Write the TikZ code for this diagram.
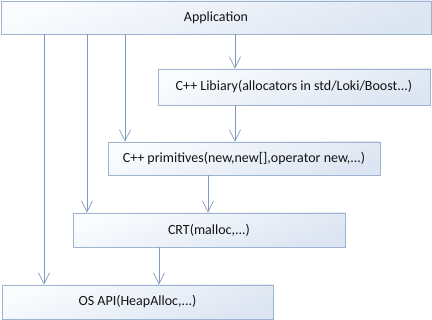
\documentclass[tikz,border=0pt]{standalone}
\usepackage{fontspec}
\setmainfont{Carlito}
\usetikzlibrary{arrows.meta}
\definecolor{boxline}{HTML}{9DB3D1}
\definecolor{boxtop}{HTML}{FAFCFE}
\definecolor{boxbot}{HTML}{DCE5F2}
\definecolor{arrowcol}{HTML}{7F99BE}
\definecolor{txt}{HTML}{141414}
\tikzset{
  layer/.style={draw=boxline, line width=0.8pt, top color=boxtop, bottom color=boxbot,
    shading angle=20, inner sep=0pt, text=txt, font=\fontsize{14}{16}\selectfont},
  call/.style={draw=arrowcol, line width=0.7pt,
    -{Straight Barb[length=11pt,width=11pt,line width=0.7pt]}}
}
\begin{document}
\begin{tikzpicture}[x=1pt,y=-1pt]
  \useasboundingbox (0,0) rectangle (432,320);
  \fill[white] (0,0) rectangle (432,320);
  % software layers, top to bottom
  \node[layer, minimum width=430pt, minimum height=33pt] (app)  at (216,17.5) {Application};
  \node[layer, minimum width=272pt, minimum height=36pt] (lib)  at (294,87)   {C++ Libiary(allocators in std/Loki/Boost...)};
  \node[layer, minimum width=272pt, minimum height=33pt] (prim) at (244,158.5) {C++ primitives(new,new[],operator new,...)};
  \node[layer, minimum width=272pt, minimum height=34pt] (crt)  at (209,230)  {CRT(malloc,...)};
  \node[layer, minimum width=271pt, minimum height=34pt] (os)   at (137.5,302) {OS API(HeapAlloc,...)};
  % calls between neighbouring layers
  \draw[call] (app.south -| 235,0) -- (lib.north -| 235,0);
  \draw[call] (lib.south -| 235,0) -- (prim.north -| 235,0);
  \draw[call] (prim.south -| 208,0) -- (crt.north -| 208,0);
  \draw[call] (crt.south -| 159,0) -- (os.north -| 159,0);
  % direct calls from the application
  \draw[call] (app.south -| 125,0) -- (prim.north -| 125,0);
  \draw[call] (app.south -| 87,0) -- (crt.north -| 87,0);
  \draw[call] (app.south -| 44,0) -- (os.north -| 44,0);
\end{tikzpicture}
\end{document}
